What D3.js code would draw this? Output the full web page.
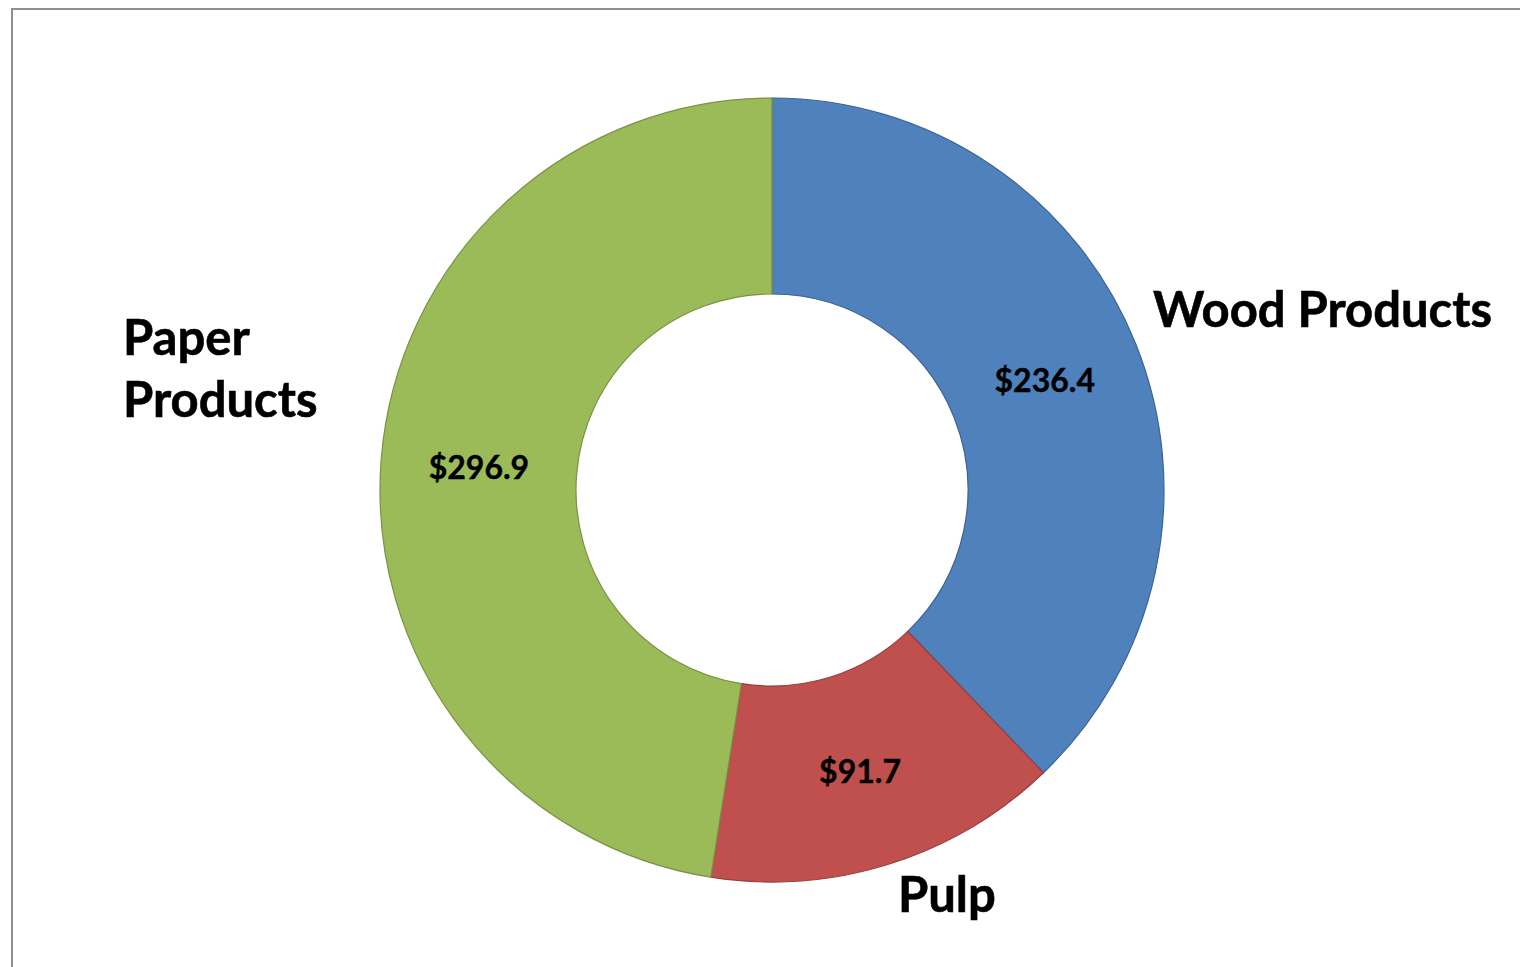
<!DOCTYPE html>
<html>
<head>
<meta charset="utf-8">
<script src="https://cdn.jsdelivr.net/npm/d3@7"></script>
<style>
  html, body { margin: 0; padding: 0; background: #fff; }
  svg { display: block; }
</style>
</head>
<body>
<div id="chart"></div>
<script>
// Chart data
const categories = ["Wood Products", "Pulp", "Paper Products"];
const values = [236.4, 91.7, 296.9];
const colors = ["#4F81BD", "#C0504D", "#9BBB59"];

const width = 1520;
const height = 967;
const cx = 772, cy = 490;
const outerR = 392, innerR = 196;

const svg = d3.select("#chart")
  .append("svg")
  .attr("width", width)
  .attr("height", height)
  .style("font-family", "Lato, 'Open Sans', sans-serif")
  .style("font-weight", "bold");

// Chart area frame (runs off the right and bottom edges)
svg.append("rect")
  .attr("x", 12)
  .attr("y", 9)
  .attr("width", width + 20)
  .attr("height", height + 20)
  .attr("fill", "#fff")
  .attr("stroke", "#8f8f8f")
  .attr("stroke-width", 2);

const data = categories.map((c, i) => ({ name: c, value: values[i], color: colors[i] }));

const pie = d3.pie()
  .value(d => d.value)
  .sort(null);

const arc = d3.arc()
  .innerRadius(innerR)
  .outerRadius(outerR);

const g = svg.append("g")
  .attr("transform", `translate(${cx},${cy})`);

const arcs = pie(data);

g.selectAll("path")
  .data(arcs)
  .join("path")
  .attr("d", arc)
  .attr("fill", d => d.data.color)
  .attr("stroke", d => d3.color(d.data.color).darker(0.7))
  .attr("stroke-width", 1.2);

// Value labels at slice centroids
g.selectAll("text.value")
  .data(arcs)
  .join("text")
  .attr("class", "value")
  .attr("x", d => arc.centroid(d)[0])
  .attr("y", d => arc.centroid(d)[1] + 12)
  .attr("text-anchor", "middle")
  .style("font-size", "32px")
  .style("stroke", "#000")
  .style("stroke-width", 0.4)
  .attr("fill", "#000")
  .text(d => "$" + d.value.toFixed(1));

// Category labels (placed outside the ring, as in the original)
const labelPos = {
  "Wood Products": { x: 1153, y: 327, lines: ["Wood Products"] },
  "Pulp": { x: 898, y: 912, lines: ["Pulp"] },
  "Paper Products": { x: 123, y: 355, lines: ["Paper", "Products"] }
};

data.forEach(d => {
  const p = labelPos[d.name];
  const t = svg.append("text")
    .attr("x", p.x)
    .attr("y", p.y)
    .attr("fill", "#000")
    .style("stroke", "#000")
    .style("stroke-width", 0.6)
    .style("font-size", "49px");
  p.lines.forEach((line, i) => {
    t.append("tspan")
      .attr("x", p.x)
      .attr("dy", i === 0 ? 0 : 62)
      .text(line);
  });
});
</script>
</body>
</html>
